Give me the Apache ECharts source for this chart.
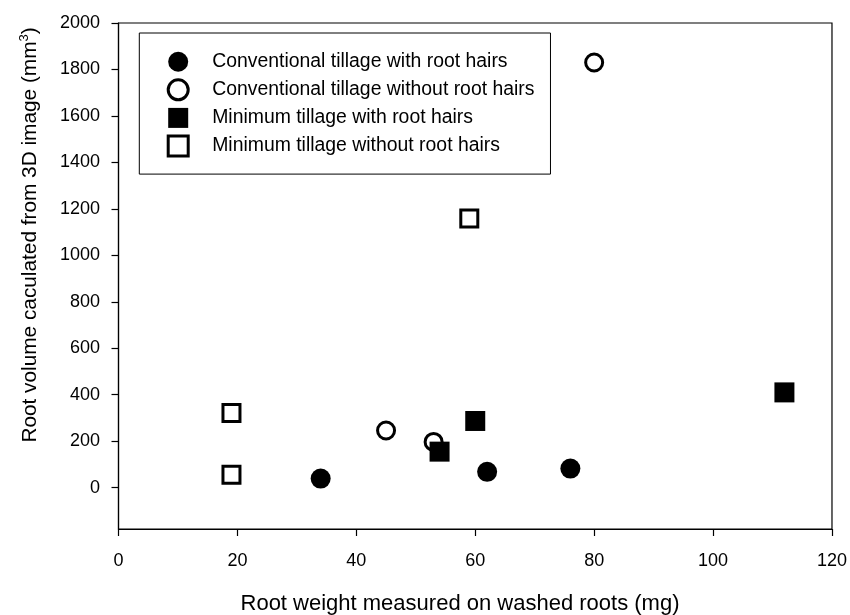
<!DOCTYPE html>
<html>
<head>
<meta charset="utf-8">
<script src="https://cdn.jsdelivr.net/npm/echarts@6/dist/echarts.min.js"></script>
<style>html,body{margin:0;padding:0;background:#fff}#c{width:850px;height:615px}</style>
</head>
<body>
<div id="c"></div>
<script>
var seriesNames = [
  'Conventional tillage with root hairs',
  'Conventional tillage without root hairs',
  'Minimum tillage with root hairs',
  'Minimum tillage without root hairs'
];
var ctWith = [[34, 39], [62, 68], [76, 82]];
var ctWithout = [[45, 246], [53, 197], [80, 1830]];
var mtWith = [[54, 155], [60, 287], [112, 410]];
var mtWithout = [[19, 321], [19, 55], [59, 1159]];
var xTicks = [0, 20, 40, 60, 80, 100, 120];
var yTicks = [0, 200, 400, 600, 800, 1000, 1200, 1400, 1600, 1800, 2000];
var xTitle = 'Root weight measured on washed roots (mg)';
var yTitle = 'Root volume caculated from 3D image (mm';

var FONT = '"Liberation Sans", Arial, sans-serif';
var chart = echarts.init(document.getElementById('c'), null, {renderer: 'canvas'});

function filled(name, data, symbol) {
  return {
    name: name, type: 'scatter', data: data, symbol: symbol, symbolSize: 20,
    itemStyle: {color: '#000', opacity: 1}
  };
}
function open(name, data, symbol) {
  return {
    name: name, type: 'scatter', data: data, symbol: symbol, symbolSize: 17,
    itemStyle: {color: '#fff', borderColor: '#000', borderWidth: 3, opacity: 1}
  };
}

chart.setOption({
  animation: false,
  backgroundColor: '#fff',
  grid: {left: 118.5, right: 18, top: 23, bottom: 86, show: true, borderColor: '#000', borderWidth: 1.2, backgroundColor: 'transparent'},
  legend: {
    orient: 'vertical', left: 139.3, top: 33,
    padding: [18.7, 16, 16.6, 27.4],
    itemWidth: 20, itemHeight: 20, itemGap: 6.6,
    borderColor: '#000', borderWidth: 1,
    data: [
      {name: seriesNames[0]},
      {name: seriesNames[1], itemStyle: {borderWidth: 3, borderColor: '#000', color: '#fff'}},
      {name: seriesNames[2]},
      {name: seriesNames[3], itemStyle: {borderWidth: 3, borderColor: '#000', color: '#fff'}}
    ],
    textStyle: {fontFamily: FONT, fontSize: 19.4, color: '#000', padding: [0, 0, 0, 19]}
  },
  xAxis: {
    type: 'value', min: xTicks[0], max: xTicks[xTicks.length - 1], interval: 20,
    axisLine: {onZero: false, lineStyle: {color: '#000', width: 1.2}},
    axisTick: {show: true, inside: false, length: 7, lineStyle: {color: '#000', width: 1.2}},
    axisLabel: {fontFamily: FONT, fontSize: 18, color: '#000', margin: 23},
    splitLine: {show: false}
  },
  yAxis: {
    type: 'value', min: -178, max: yTicks[yTicks.length - 1],
    axisLine: {show: true, onZero: false, lineStyle: {color: '#000', width: 1.2}},
    axisTick: {show: true, inside: false, length: 7, lineStyle: {color: '#000', width: 1.2}, customValues: yTicks},
    axisLabel: {fontFamily: FONT, fontSize: 18, color: '#000', margin: 18.5, customValues: yTicks,
      formatter: function (v) { return String(v); }},
    splitLine: {show: false}
  },
  graphic: [
    {
      type: 'text', x: 460, y: 604,
      style: {text: xTitle, font: '22px ' + FONT, fill: '#000', align: 'center', verticalAlign: 'middle'}
    },
    {
      type: 'text', x: 30, y: 235, rotation: Math.PI / 2,
      style: {
        text: '{a|' + yTitle + '}{s|3}{a|)}',
        align: 'center', verticalAlign: 'middle',
        rich: {
          a: {fontFamily: FONT, fontSize: 20.8, fill: '#000', color: '#000', lineHeight: 24},
          s: {fontFamily: FONT, fontSize: 13, fill: '#000', color: '#000', verticalAlign: 'top', lineHeight: 16}
        }
      }
    }
  ],
  series: [
    filled(seriesNames[0], ctWith, 'circle'),
    open(seriesNames[1], ctWithout, 'circle'),
    filled(seriesNames[2], mtWith, 'rect'),
    open(seriesNames[3], mtWithout, 'rect')
  ]
});
</script>
</body>
</html>
